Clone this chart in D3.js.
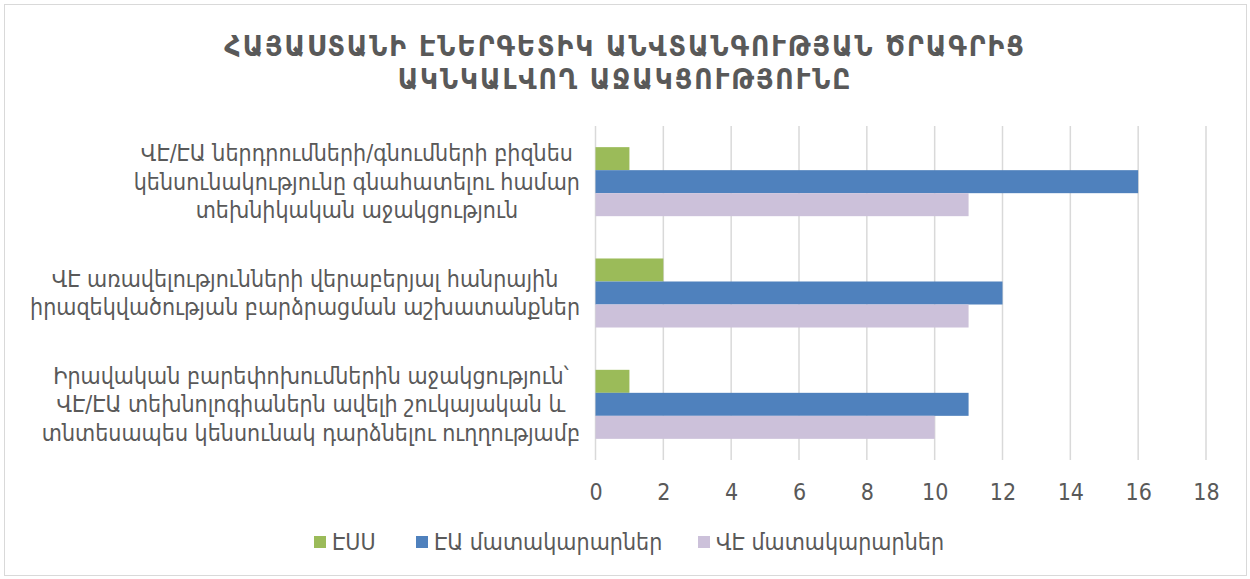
<!DOCTYPE html>
<html>
<head>
<meta charset="utf-8">
<script src="https://cdn.jsdelivr.net/npm/d3@7"></script>
<style>
  html, body { margin: 0; padding: 0; background: #ffffff; }
  svg { display: block; }
</style>
</head>
<body>
<div id="chart"></div>
<script>
// Chart data
const titleLines = [
    "ՀԱՅԱՍՏԱՆԻ ԷՆԵՐԳԵՏԻԿ ԱՆՎՏԱՆԳՈՒԹՅԱՆ ԾՐԱԳՐԻՑ",
    "ԱԿՆԿԱԼՎՈՂ ԱՋԱԿՑՈՒԹՅՈՒՆԸ"
];

// categories, top to bottom, each split in its display lines
const categories = [
    ["ՎԷ/ԷԱ ներդրումների/գնումների բիզնես", "կենսունակությունը գնահատելու համար", "տեխնիկական աջակցություն"],
    ["ՎԷ առավելությունների վերաբերյալ հանրային", "իրազեկվածության բարձրացման աշխատանքներ"],
    ["Իրավական բարեփոխումներին աջակցություն՝", "ՎԷ/ԷԱ տեխնոլոգիաներն ավելի շուկայական և", "տնտեսապես կենսունակ դարձնելու ուղղությամբ"]
];

const seriesNames = ["ԷՍՍ", "ԷԱ մատակարարներ", "ՎԷ մատակարարներ"];
const seriesColors = ["#9bbb59", "#4f81bd", "#ccc1da"];

// values per series, same order as categories
const esuValues = [1, 2, 1];
const eaValues = [16, 12, 11];
const veValues = [11, 11, 10];
const seriesValues = [esuValues, eaValues, veValues];

const xTicks = [0, 2, 4, 6, 8, 10, 12, 14, 16, 18];

const W = 1250, H = 579;
const font = "'Liberation Sans Narrow', 'DejaVu Sans Condensed', sans-serif";
const textColor = "#595959";

const svg = d3.select("#chart").append("svg")
    .attr("width", W)
    .attr("height", H);

// outer frame
svg.append("rect")
    .attr("x", 4.5).attr("y", 4.5)
    .attr("width", W - 8).attr("height", H - 8)
    .attr("fill", "#fff")
    .attr("stroke", "#d9d9d9")
    .attr("stroke-width", 1);

// title, two lines
svg.append("g").selectAll("text")
    .data(titleLines)
    .join("text")
    .attr("x", 625)
    .attr("y", (d, i) => 56 + i * 33)
    .attr("text-anchor", "middle")
    .attr("font-family", font)
    .attr("font-size", 28)
    .attr("letter-spacing", 2)
    .attr("font-weight", "bold")
    .attr("fill", textColor)
    .text(d => d);

// scales
const plot = { left: 595.5, right: 1206, top: 126, bottom: 460 };
const x = d3.scaleLinear().domain([0, 18]).range([plot.left, plot.right]);
const y = d3.scaleBand()
    .domain(d3.range(categories.length))
    .range([plot.top, plot.bottom])
    .paddingInner(0.38)
    .paddingOuter(0.19);
const ySub = d3.scaleBand()
    .domain(d3.range(seriesNames.length))
    .range([0, y.bandwidth()]);

// vertical gridlines
svg.append("g")
    .selectAll("line")
    .data(xTicks)
    .join("line")
    .attr("x1", d => x(d)).attr("x2", d => x(d))
    .attr("y1", plot.top).attr("y2", plot.bottom)
    .attr("stroke", "#d9d9d9")
    .attr("stroke-width", 1.5);

// bars
const groups = svg.append("g")
    .selectAll("g")
    .data(categories.map((c, i) => i))
    .join("g")
    .attr("transform", i => `translate(0,${y(i)})`);

groups.selectAll("rect")
    .data(i => seriesValues.map((vals, s) => ({ s, v: vals[i] })))
    .join("rect")
    .attr("x", x(0))
    .attr("y", d => ySub(d.s))
    .attr("width", d => x(d.v) - x(0))
    .attr("height", ySub.bandwidth())
    .attr("fill", d => seriesColors[d.s]);

// category labels: lines centred inside a block whose right edge sits near the axis
const lineH = 28.5;
const labelRight = 580;
svg.append("g")
    .selectAll("text")
    .data(categories.map((lines, i) => ({ lines, i })))
    .join("text")
    .attr("text-anchor", "middle")
    .attr("font-family", font)
    .attr("font-size", 23)
    .attr("fill", textColor)
    .each(function(d) {
        const cy = y(d.i) + y.bandwidth() / 2;
        const y0 = cy - (d.lines.length - 1) * lineH / 2 + 8;
        const spans = d3.select(this).selectAll("tspan")
            .data(d.lines)
            .join("tspan")
            .attr("y", (l, k) => y0 + k * lineH)
            .text(l => l);
        const maxW = d3.max(spans.nodes(), n => n.getComputedTextLength());
        spans.attr("x", labelRight - maxW / 2);
    });

// x axis labels
const xAxis = d3.axisBottom(x)
    .tickValues(xTicks)
    .tickSize(0)
    .tickPadding(24);
const axisG = svg.append("g")
    .attr("transform", `translate(0,${plot.bottom})`)
    .call(xAxis);
axisG.select(".domain").remove();
axisG.selectAll("text")
    .attr("font-family", font)
    .attr("font-size", 23)
    .attr("fill", textColor);

// legend
const legendX = [314, 416, 698];
const legend = svg.append("g")
    .selectAll("g")
    .data(seriesNames.map((n, i) => ({ n, i })))
    .join("g")
    .attr("transform", d => `translate(${legendX[d.i]},536)`);
legend.append("rect")
    .attr("width", 12).attr("height", 12)
    .attr("fill", d => seriesColors[d.i]);
legend.append("text")
    .attr("x", 18)
    .attr("y", 14)
    .attr("font-family", font)
    .attr("font-size", 23)
    .attr("fill", textColor)
    .text(d => d.n);
</script>
</body>
</html>
